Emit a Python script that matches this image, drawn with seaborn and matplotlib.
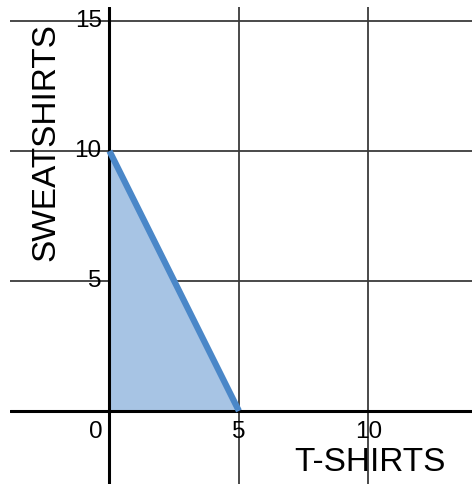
import matplotlib
matplotlib.use("Agg")
import matplotlib.pyplot as plt
import seaborn as sns
import pandas as pd

# data
x_ticks = [0, 5, 10]
y_ticks = [0, 5, 10, 15]
boundary_x = [0, 5]
boundary_y = [10, 0]
x_label = "T-SHIRTS"
y_label = "SWEATSHIRTS"

sns.set_style("white")
plt.rcParams["font.family"] = ["Liberation Sans", "DejaVu Sans"]
plt.rcParams["text.color"] = "black"

fig = plt.figure(figsize=(4.72, 4.84), dpi=100)
ax = fig.add_axes([10 / 472, 0, 462 / 472, 477 / 484])
ax.set_xlim(-3.84, 14.0)
ax.set_ylim(-2.81, 15.54)
for s in ax.spines.values():
    s.set_visible(False)
ax.set_xticks([])
ax.set_yticks([])

grid_color = "#3a3a3a"
for xt in x_ticks:
    if xt == 0:
        ax.axvline(xt, color="black", lw=2.2, zorder=3)
    else:
        ax.axvline(xt, color=grid_color, lw=1.3, zorder=1)
for yt in y_ticks:
    if yt == 0:
        ax.axhline(yt, color="black", lw=2.2, zorder=3)
    else:
        ax.axhline(yt, color=grid_color, lw=1.3, zorder=1)

# feasible region
df = pd.DataFrame({"x": boundary_x, "y": boundary_y})
ax.fill_between(df["x"], df["y"], 0, color="#a7c4e4", zorder=2, lw=0)
sns.lineplot(data=df, x="x", y="y", ax=ax, color="#4a87c8", linewidth=4.5,
             zorder=4, solid_capstyle="butt")
ax.set_xlabel("")
ax.set_ylabel("")

fs = 17.5
for yt in y_ticks[1:]:
    ax.text(-0.3, yt, str(yt), ha="right", va="center", fontsize=fs,
            color="black", zorder=5)
for xt in x_ticks:
    if xt == 0:
        ax.text(-0.28, -0.8, str(xt), ha="right", va="center", fontsize=fs,
                color="black", zorder=5)
    else:
        ax.text(xt, -0.8, str(xt), ha="center", va="center", fontsize=fs,
                color="black", zorder=5)

ax.text(10.06, -1.97, x_label, ha="center", va="center", fontsize=24,
        color="black", zorder=5)
ax.text(-2.45, 10.35, y_label, ha="center", va="center", rotation=90,
        fontsize=24, color="black", zorder=5)

fig.savefig("out.png", dpi=100)
